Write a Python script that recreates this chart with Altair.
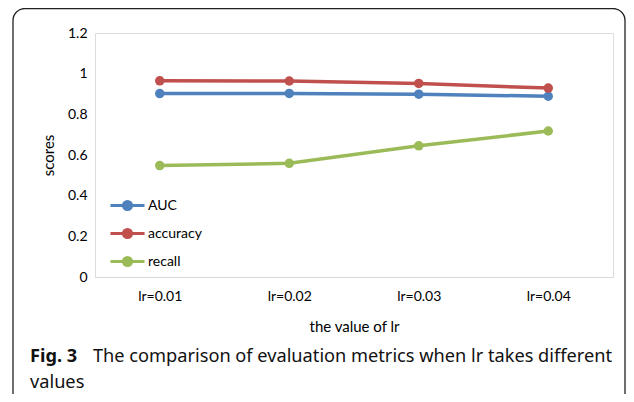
import altair as alt
import pandas as pd

categories = ["lr=0.01", "lr=0.02", "lr=0.03", "lr=0.04"]
series_names = ["AUC", "accuracy", "recall"]
auc = [0.902, 0.903, 0.899, 0.889]
accuracy = [0.965, 0.964, 0.952, 0.929]
recall = [0.548, 0.559, 0.645, 0.718]
colors = ["#4F81BD", "#C0504D", "#9BBB59"]
y_ticks = [0, 0.2, 0.4, 0.6, 0.8, 1.0, 1.2]
caption_bold = "Fig. 3"
caption_line1 = "The comparison of evaluation metrics when lr takes different"
caption_line2 = "values"

rows = []
for name, vals in zip(series_names, [auc, accuracy, recall]):
    for c, v in zip(categories, vals):
        rows.append({"lr": c, "metric": name, "score": v})
df = pd.DataFrame(rows)
one = pd.DataFrame({"k": [0]})

W, H = 518, 244
AXIS_FONT = "Lato"
CAP_FONT = "Noto Sans"
CAP_SIZE = 18.2

legend_path = ("M-1.42,0L1.42,0M0.34,0A0.34,0.34 0 1 1 -0.34,0"
               "A0.34,0.34 0 1 1 0.34,0Z")

x_enc = alt.X("lr:O", sort=categories,
              scale=alt.Scale(type="point", padding=0.5),
              axis=alt.Axis(title="the value of lr", labelAngle=0, ticks=False,
                            labelPadding=12, labelFontSize=14, titleFontSize=15,
                            titleFontWeight="normal", titleY=49, titleBaseline="middle",
                            domainColor="#D9D9D9", labelColor="#000", titleColor="#000",
                            labelFont=AXIS_FONT, titleFont=AXIS_FONT))
y_enc = alt.Y("score:Q", scale=alt.Scale(domain=[0, 1.2], nice=False),
              axis=alt.Axis(title="scores", values=y_ticks, format="~g", ticks=False,
                            domain=False, grid=False, labelPadding=8, labelFontSize=14,
                            titleFontSize=15, titleFontWeight="normal", titleX=-47,
                            titleY=122, titleAlign="center", titleBaseline="middle",
                            labelColor="#000", titleColor="#000",
                            labelFont=AXIS_FONT, titleFont=AXIS_FONT))
color_enc = alt.Color("metric:N", sort=series_names,
                      scale=alt.Scale(domain=series_names, range=colors),
                      legend=alt.Legend(title=None, orient="none", legendX=19, legendY=159,
                                        symbolType=legend_path, symbolSize=576,
                                        symbolStrokeWidth=3, symbolFillColor=None,
                                        rowPadding=4, labelOffset=7, labelFontSize=14,
                                        labelFont=AXIS_FONT, labelColor="#000"))

lines = alt.Chart(df).mark_line(strokeWidth=3.5).encode(x=x_enc, y=y_enc, color=color_enc)
points = alt.Chart(df).mark_circle(size=90, opacity=1).encode(
    x=alt.X("lr:O", sort=categories), y="score:Q",
    color=alt.Color("metric:N", sort=series_names, legend=None))

frame = alt.Chart(one).mark_rect(filled=False, stroke="#222", strokeWidth=1.3,
                                 cornerRadius=12).encode(
    x=alt.value(-82), x2=alt.value(530), y=alt.value(-24.5), y2=alt.value(420))

cap_bold = alt.Chart(one).mark_text(text=caption_bold, font=CAP_FONT, fontWeight="bold",
                                    fontSize=CAP_SIZE, align="left", baseline="middle",
                                    color="#111").encode(x=alt.value(-65), y=alt.value(324))
cap1 = alt.Chart(one).mark_text(text=caption_line1, font=CAP_FONT, fontSize=CAP_SIZE,
                                fontWeight="normal", align="left", baseline="middle",
                                color="#111").encode(x=alt.value(-2), y=alt.value(324))
cap2 = alt.Chart(one).mark_text(text=caption_line2, font=CAP_FONT, fontSize=CAP_SIZE,
                                fontWeight="normal", align="left", baseline="middle",
                                color="#111").encode(x=alt.value(-65), y=alt.value(350))

chart = alt.layer(frame, lines, points, cap_bold, cap1, cap2).properties(
    width=W, height=H,
    autosize=alt.AutoSizeParams(type="none"),
    padding={"left": 87, "top": 25, "right": 13, "bottom": 117},
).configure_view(stroke="#E6E6E6").configure(background="white")

chart.save("out.html", embed_options={"renderer": "svg", "actions": False})
